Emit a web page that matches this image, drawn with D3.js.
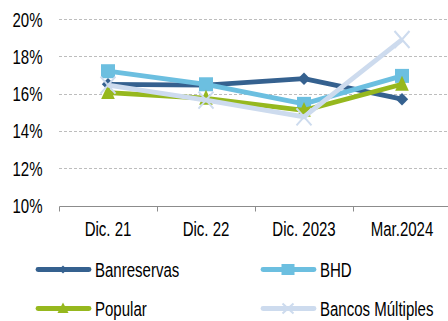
<!DOCTYPE html>
<html><head><meta charset="utf-8">
<script src="https://cdn.jsdelivr.net/npm/d3@7"></script>
<style>
html,body{margin:0;padding:0;background:#fff;}
svg text{font-family:Arial,"Liberation Sans",sans-serif;font-size:19.5px;fill:#000;}
</style></head><body>
<svg id="c" width="448" height="321"></svg>
<script>
const categories = ["Dic. 21", "Dic. 22", "Dic. 2023", "Mar.2024"];
const banreservas = [16.5, 16.45, 16.8, 15.7];
const bhd = [17.2, 16.5, 15.45, 16.95];
const popular = [16.05, 15.75, 15.1, 16.5];
const bancosMultiples = [16.45, 15.65, 14.75, 18.9];
const seriesNames = ["Banreservas", "BHD", "Popular", "Bancos Múltiples"];
const yTicks = [10, 12, 14, 16, 18, 20];

(function () {
const series = [
  {name: seriesNames[0], values: banreservas, color: "#35618F", marker: "diamond"},
  {name: seriesNames[1], values: bhd, color: "#6CBFE0", marker: "square"},
  {name: seriesNames[2], values: popular, color: "#96B81E", marker: "triangle"},
  {name: seriesNames[3], values: bancosMultiples, color: "#CDDBEE", marker: "cross"}
];
const SX = 0.77, FS = "19.5px", FF = "Arial, 'Liberation Sans', sans-serif";

const svg = d3.select("#c");
const mLeft = 59, mRight = 451, mTop = 19, mBottom = 205.5;
const x = d3.scaleBand().domain(categories).range([mLeft, mRight]);
const y = d3.scaleLinear().domain([10, 20]).range([mBottom, mTop]);

// gridlines
svg.append("g").selectAll("line").data(yTicks.filter(d => d > 10)).join("line")
  .attr("x1", mLeft).attr("x2", 448)
  .attr("y1", d => Math.round(y(d)) + 0.5).attr("y2", d => Math.round(y(d)) + 0.5)
  .attr("stroke", "#BDBDBD").attr("stroke-width", 1).attr("stroke-dasharray", "3,2");

// y axis labels
const yAxis = d3.axisLeft(y).tickValues(yTicks).tickFormat(d => d + "%").tickSize(0).tickPadding(0);
const gy = svg.append("g").attr("transform", `translate(${mLeft - 16.5},0)`).call(yAxis);
gy.select(".domain").remove();
gy.selectAll("text").style("font-size", FS).attr("font-family", FF).attr("fill", "#000")
  .attr("dy", "0.36em").attr("transform", `scale(${SX},1)`);

// x axis
const xAxis = d3.axisBottom(x).tickSize(0).tickPadding(0);
const gx = svg.append("g").attr("transform", `translate(0,${Math.round(mBottom) + 0.5})`).call(xAxis);
gx.select(".domain").attr("d", `M${mLeft + 0.5},5V0H${mRight}`).attr("stroke", "#8C8C8C");
gx.selectAll("text").style("font-size", FS).attr("font-family", FF).attr("fill", "#000")
  .attr("y", 30).attr("dy", 0).attr("transform", `scale(${SX},1)`);
svg.append("g").selectAll("line").data(categories.slice(1)).join("line")
  .attr("x1", d => Math.round(x(d)) + 0.5).attr("x2", d => Math.round(x(d)) + 0.5)
  .attr("y1", Math.round(mBottom) + 0.5).attr("y2", Math.round(mBottom) + 5.5)
  .attr("stroke", "#8C8C8C");

function drawMarker(g, type, cx, cy, color, sz) {
  if (type === "diamond") {
    const r = sz.d;
    g.append("path").attr("d", `M${cx},${cy - r}L${cx + r},${cy}L${cx},${cy + r}L${cx - r},${cy}Z`).attr("fill", color);
  } else if (type === "square") {
    const w = sz.sw, h = sz.sh;
    g.append("rect").attr("x", cx - w).attr("y", cy - h).attr("width", 2 * w).attr("height", 2 * h).attr("fill", color);
  } else if (type === "triangle") {
    const w = sz.tw, h = sz.th;
    g.append("path").attr("d", `M${cx},${cy - h}L${cx + w},${cy + h * 0.75}L${cx - w},${cy + h * 0.75}Z`).attr("fill", color);
  } else if (type === "cross") {
    const w = sz.xw, h = sz.xh;
    g.append("path").attr("d", `M${cx - w},${cy - h}L${cx + w},${cy + h}M${cx - w},${cy + h}L${cx + w},${cy - h}`)
      .attr("stroke", color).attr("stroke-width", 2).attr("fill", "none");
  }
}
const plotSize = {d: 6.2, sw: 7, sh: 7, tw: 6.8, th: 8.5, xw: 7.5, xh: 8.5};
const legSize = {d: 4, sw: 6.5, sh: 5.5, tw: 5.5, th: 6, xw: 5.5, xh: 5};

const line = d3.line().x((d, i) => x(categories[i]) + x.bandwidth() / 2).y(d => y(d));
series.forEach(s => {
  const g = svg.append("g");
  g.append("path").datum(s.values).attr("d", line).attr("fill", "none")
    .attr("stroke", s.color).attr("stroke-width", 4.8).attr("stroke-linejoin", "round");
  s.values.forEach((v, i) => drawMarker(g, s.marker, x(categories[i]) + x.bandwidth() / 2, y(v), s.color, plotSize));
});

// legend
const legendPos = [[36, 269.5], [261, 269.5], [36, 308.5], [261, 308.5]];
series.forEach((s, i) => {
  const [lx, ly] = legendPos[i];
  const g = svg.append("g");
  g.append("line").attr("x1", lx + 2).attr("x2", lx + 53).attr("y1", ly).attr("y2", ly)
    .attr("stroke", s.color).attr("stroke-width", 4.8).attr("stroke-linecap", "round");
  drawMarker(g, s.marker, lx + 27, ly, s.color, legSize);
  g.append("text").attr("transform", `translate(${lx + 59},${ly + 7}) scale(${SX},1)`)
    .style("font-size", FS).attr("font-family", FF).text(s.name);
});
})();
</script>
</body></html>
